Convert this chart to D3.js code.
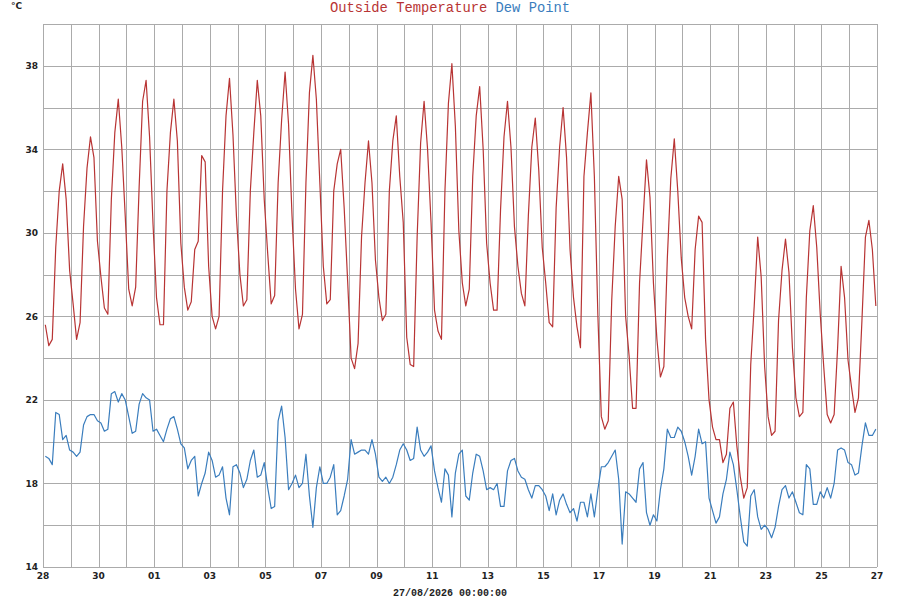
<!DOCTYPE html>
<html><head><meta charset="utf-8">
<script src="https://cdn.jsdelivr.net/npm/d3@7"></script>
<style>body{margin:0;background:#fff}svg{display:block}</style>
</head><body><svg id="c" width="900" height="600"></svg>
<script>
const seriesNames = ["Outside Temperature", "Dew Point"];
const seriesColors = ["#b83434", "#3a7dbd"];
const unitLabel = "°C";
const footerLabel = "27/08/2026 00:00:00";
const startTime = "2026-07-28T02:00:00Z";
const stepHours = 3;
const xDomain = ["2026-07-28T00:00:00Z", "2026-08-27T00:00:00Z"];
const yDomain = [14, 40];
const yTickLabels = [14, 18, 22, 26, 30, 34, 38];

const temperature = [
25.6,24.6,24.9,29.3,32.0,33.3,31.6,28.2,26.6,24.9,25.7,30.3,33.1,34.6,33.6,29.6,
27.9,26.4,26.1,31.6,34.8,36.4,34.1,30.8,27.3,26.5,27.4,32.2,36.3,37.3,34.6,30.4,
26.9,25.6,25.6,32.0,34.8,36.4,34.4,29.5,27.4,26.3,26.7,29.2,29.6,33.7,33.4,28.4,
26.0,25.4,26.0,32.0,35.6,37.4,34.7,30.8,28.0,26.5,26.8,32.0,34.8,37.3,35.6,31.6,
29.0,26.6,27.0,32.4,35.4,37.7,35.2,30.8,27.3,25.4,26.1,32.4,36.7,38.5,36.4,32.4,
28.4,26.6,26.8,32.0,33.3,34.0,31.2,27.7,24.0,23.5,24.7,29.8,32.4,34.4,32.4,28.7,
26.9,25.8,26.1,32.0,34.4,35.6,32.7,30.5,25.0,23.7,23.6,29.8,34.3,36.3,34.0,30.5,
26.3,25.3,24.9,32.0,36.2,38.1,35.1,30.1,27.6,26.5,27.3,32.7,35.6,37.0,34.0,29.5,
27.6,26.3,26.3,31.1,34.6,36.3,34.1,30.3,28.4,27.1,26.5,30.8,34.1,35.5,33.0,29.3,
27.6,25.7,25.5,31.2,34.1,36.0,33.6,29.2,26.9,25.5,24.5,32.7,34.8,36.7,32.7,26.1,
21.2,20.6,21.0,26.8,30.3,32.7,31.6,26.0,24.1,21.6,21.6,27.6,30.6,33.5,31.7,27.6,
24.9,23.1,23.6,28.8,32.6,34.5,32.0,28.8,26.9,26.0,25.4,29.2,30.8,30.5,24.9,22.0,
20.7,20.1,20.1,19.0,19.4,21.6,21.9,19.8,18.3,17.3,17.8,23.7,26.5,29.8,27.9,23.6,
21.2,20.3,20.5,25.8,28.2,29.7,28.1,24.5,22.1,21.2,21.4,26.9,30.1,31.3,29.3,26.1,
23.6,21.3,20.9,21.3,24.5,28.4,26.9,23.9,22.6,21.4,22.1,25.8,29.8,30.6,29.2,26.5
];

const dewPoint = [
19.3,19.2,18.9,21.4,21.3,20.1,20.3,19.6,19.5,19.3,19.5,20.8,21.2,21.3,21.3,21.0,
20.9,20.5,20.6,22.3,22.4,21.9,22.3,22.0,21.2,20.4,20.5,21.8,22.3,22.1,22.0,20.5,
20.6,20.3,20.0,20.6,21.1,21.2,20.6,19.9,19.7,18.7,19.1,19.3,17.4,18.0,18.5,19.5,
19.1,18.3,18.4,18.8,17.3,16.5,18.8,18.9,18.5,17.8,18.2,19.1,19.6,18.3,18.4,19.0,
17.8,16.8,16.9,21.0,21.7,20.2,17.7,18.0,18.4,17.8,18.0,19.4,17.4,15.9,17.8,18.8,
18.0,18.0,18.3,18.9,16.5,16.7,17.4,18.2,20.1,19.4,19.5,19.6,19.6,19.4,20.1,19.4,
18.3,18.1,18.3,18.0,18.3,18.9,19.6,19.9,19.6,19.1,19.2,20.7,19.6,19.3,19.5,19.8,
18.6,17.8,17.1,18.7,18.4,16.4,18.5,19.4,19.6,17.4,17.2,18.5,19.4,19.3,18.6,17.7,
17.8,17.7,18.0,16.9,16.9,18.6,19.1,19.2,18.6,18.3,18.2,17.7,17.3,17.9,17.9,17.7,
17.4,16.7,17.5,16.5,17.2,17.5,17.0,16.6,16.8,16.2,17.1,17.1,16.4,17.5,16.4,17.7,
18.8,18.8,19.0,19.3,19.6,18.2,15.1,17.6,17.5,17.3,17.1,18.7,19.0,16.6,16.0,16.5,
16.2,17.7,18.7,20.6,20.2,20.2,20.7,20.5,20.0,19.3,18.4,19.3,20.6,19.9,20.0,17.3,
16.7,16.1,16.4,17.5,18.2,19.5,18.9,17.7,16.4,15.2,15.0,17.4,17.7,16.4,15.8,16.0,
15.8,15.4,15.9,16.9,17.7,17.9,17.3,17.6,17.1,16.6,16.5,18.9,18.7,17.0,17.0,17.6,
17.3,17.8,17.3,18.0,19.6,19.7,19.6,19.0,18.9,18.4,18.5,19.8,20.9,20.3,20.3,20.6
];

const W = 900, H = 600;
const plot = {left: 43, right: 877, top: 24, bottom: 567};
const svg = d3.select("#c");

const x = d3.scaleUtc().domain(xDomain.map(d => new Date(d))).range([plot.left, plot.right]);
const y = d3.scaleLinear().domain(yDomain).range([plot.bottom, plot.top]);

const t0 = new Date(startTime).getTime();
const timeOf = i => new Date(t0 + i * stepHours * 3600 * 1000);
const px = v => Math.round(v) + 0.5;

const gridColor = "#ababab";
const grid = svg.append("g");
grid.selectAll("line.h").data(d3.range(yDomain[0], yDomain[1] + 1, 2)).join("line")
  .attr("x1", plot.left).attr("x2", plot.right)
  .attr("y1", d => px(y(d))).attr("y2", d => px(y(d)))
  .attr("stroke", gridColor).attr("stroke-width", 1);
const days = d3.utcDay.range(x.domain()[0], d3.utcDay.offset(x.domain()[1], 1));
grid.selectAll("line.v").data(days).join("line")
  .attr("y1", plot.top).attr("y2", plot.bottom)
  .attr("x1", d => px(x(d))).attr("x2", d => px(x(d)))
  .attr("stroke", gridColor).attr("stroke-width", 1);

const labelFont = "DejaVu Sans, sans-serif";
svg.append("g").selectAll("text").data(yTickLabels).join("text")
  .attr("x", 38).attr("y", d => y(d)).attr("dy", "0.36em")
  .attr("text-anchor", "end").attr("font-family", labelFont)
  .attr("font-size", 9).attr("font-weight", "bold").attr("fill", "#222")
  .text(d => d);

const xLabelDays = days.filter((d, i) => i % 2 === 0);
const fmt = d3.utcFormat("%d");
svg.append("g").selectAll("text").data(xLabelDays).join("text")
  .attr("x", d => x(d)).attr("y", 579)
  .attr("text-anchor", "middle").attr("font-family", labelFont)
  .attr("font-size", 9).attr("font-weight", "bold").attr("fill", "#222")
  .text(d => fmt(d));

svg.append("text").attr("x", 11).attr("y", 9)
  .attr("font-family", labelFont).attr("font-size", 9).attr("font-weight", "bold")
  .attr("fill", "#222").text(unitLabel);

const line = d3.line().x((d, i) => x(timeOf(i))).y(d => y(d));
[temperature, dewPoint].forEach((s, k) => {
  svg.append("path").datum(s).attr("d", line)
    .attr("fill", "none").attr("stroke", seriesColors[k])
    .attr("stroke-width", 1.2).attr("stroke-linejoin", "round");
});

const title = svg.append("text").attr("x", W / 2).attr("y", 12)
  .attr("text-anchor", "middle").attr("font-family", "Liberation Mono, monospace")
  .attr("font-size", 13.8);
seriesNames.forEach((n, k) => {
  title.append("tspan").attr("fill", seriesColors[k]).text((k ? " " : "") + n);
});

svg.append("text").attr("x", W / 2).attr("y", 596)
  .attr("text-anchor", "middle").attr("font-family", "Liberation Mono, monospace")
  .attr("font-size", 10).attr("font-weight", "bold").attr("fill", "#222")
  .text(footerLabel);
</script></body></html>
